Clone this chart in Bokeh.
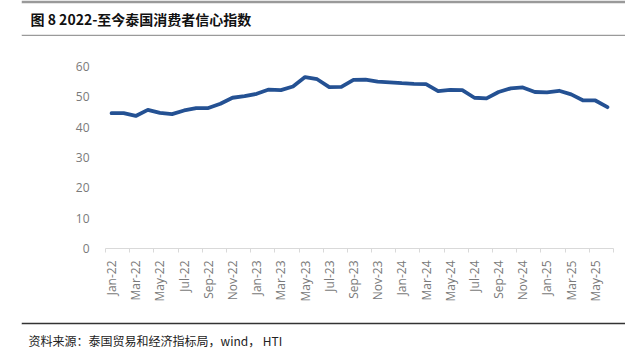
import math
from bokeh.plotting import figure
from bokeh.models import FixedTicker, Range1d, Label
from bokeh.embed import file_html
from bokeh.resources import INLINE

months = ["Jan-22","Feb-22","Mar-22","Apr-22","May-22","Jun-22","Jul-22","Aug-22","Sep-22","Oct-22","Nov-22","Dec-22",
          "Jan-23","Feb-23","Mar-23","Apr-23","May-23","Jun-23","Jul-23","Aug-23","Sep-23","Oct-23","Nov-23","Dec-23",
          "Jan-24","Feb-24","Mar-24","Apr-24","May-24","Jun-24","Jul-24","Aug-24","Sep-24","Oct-24","Nov-24","Dec-24",
          "Jan-25","Feb-25","Mar-25","Apr-25","May-25","Jun-25"]
cci = [44.6,44.6,43.7,45.7,44.7,44.3,45.5,46.3,46.3,47.7,49.7,50.2,
       51.0,52.4,52.2,53.4,56.5,55.8,53.2,53.3,55.6,55.7,55.0,54.8,
       54.5,54.3,54.2,51.9,52.3,52.2,49.7,49.5,51.6,52.8,53.1,51.6,
       51.5,52.0,50.8,48.8,48.8,46.6]
y_ticks = [0, 10, 20, 30, 40, 50, 60]
title_text = "图 8  2022-至今泰国消费者信心指数"
source_text = "资料来源：泰国贸易和经济指标局，wind， HTI"

idx = list(range(len(months)))
W = 630
BAND = 604


def band_fig(h, top, bottom, rule_color):
    # the rules are the figure's border strips; the white frame sits between them
    f = figure(width=BAND, height=h, output_backend="svg", toolbar_location=None,
               x_axis_type=None, y_axis_type=None, margin=(0, 0, 0, 21),
               min_border_left=0, min_border_right=0, min_border_top=top, min_border_bottom=bottom,
               x_range=Range1d(0, BAND), y_range=Range1d(h - top - bottom, 0))
    f.outline_line_color = None
    f.border_fill_color = rule_color
    f.background_fill_color = "white"
    f.xgrid.visible = False
    f.ygrid.visible = False
    return f


# title band
t = band_fig(36, 3, 2, "#9a9a9a")
t.add_layout(Label(x=9, y=15.5, text=title_text, text_baseline="middle", text_align="left",
                   text_font="Noto Sans CJK SC", text_font_style="bold",
                   text_font_size="14px", text_color="#111111"))

# main chart
p = figure(width=W, height=286, output_backend="svg", toolbar_location=None,
           min_border_left=105, min_border_right=17, min_border_top=30, min_border_bottom=74,
           x_range=Range1d(-0.5, len(months) - 0.5), y_range=Range1d(0, 60))
p.outline_line_color = None
p.xgrid.visible = False
p.ygrid.visible = False

p.line(idx, cci, line_width=3.8, line_color="#245193", line_join="round", line_cap="round")

p.yaxis.ticker = FixedTicker(ticks=y_ticks)
p.yaxis.axis_line_color = None
p.yaxis.major_tick_line_color = None
p.yaxis.minor_tick_line_color = None
p.yaxis.major_label_text_font = "Open Sans"
p.yaxis.major_label_text_font_size = "12px"
p.yaxis.major_label_text_color = "#7a7a7a"
p.yaxis.major_label_standoff = 10

p.xaxis.ticker = FixedTicker(ticks=idx[::2], minor_ticks=[i - 0.5 for i in range(0, len(months) + 1, 2)])
p.xaxis.major_label_overrides = {i: months[i] for i in idx[::2]}
p.xaxis.major_label_orientation = math.pi / 2
p.xaxis.axis_line_color = "#d9d9d9"
p.xaxis.major_tick_line_color = None
p.xaxis.minor_tick_line_color = "#d9d9d9"
p.xaxis.minor_tick_out = 4
p.xaxis.minor_tick_in = 0
p.xaxis.major_tick_out = 0
p.xaxis.major_label_standoff = 8
p.xaxis.major_label_text_font = "Open Sans"
p.xaxis.major_label_text_font_size = "12px"
p.xaxis.major_label_text_color = "#7a7a7a"

# footer band
ft = band_fig(33, 2, 0, "#333333")
ft.add_layout(Label(x=7, y=16, text=source_text, text_baseline="middle", text_align="left",
                    text_font="Noto Sans CJK SC", text_font_size="12px", text_color="#222222"))

open("out.html", "w").write(file_html([t, p, ft], INLINE))
